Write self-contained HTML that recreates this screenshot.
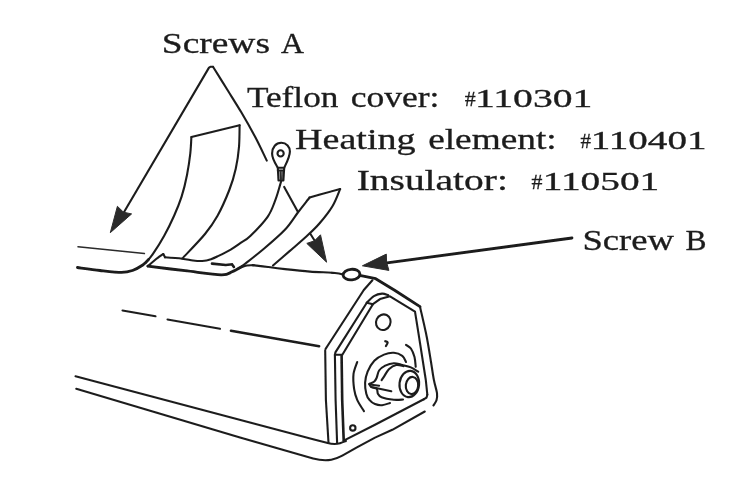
<!DOCTYPE html>
<html>
<head>
<meta charset="utf-8">
<title>Diagram</title>
<style>
html,body{margin:0;padding:0;background:#ffffff;}
body{width:739px;height:492px;overflow:hidden;font-family:"Liberation Serif",serif;}
svg{display:block;position:absolute;left:0;top:0;}
text{font-family:"Liberation Serif",serif;font-size:28.5px;fill:#1c1c1c;stroke:#1c1c1c;stroke-width:0.3;}
.l{fill:none;stroke:#1e1e1e;stroke-width:2.1;stroke-linecap:round;stroke-linejoin:round;}
.t{fill:none;stroke:#1a1a1a;stroke-width:2.8;stroke-linecap:round;stroke-linejoin:round;}
.t2{stroke:#1a1a1a;stroke-width:2.1;stroke-linecap:round;stroke-linejoin:round;}
.t3{fill:none;stroke:#1a1a1a;stroke-width:2.6;stroke-linecap:round;}
.n{fill:none;stroke:#2a2a2a;stroke-width:1.5;stroke-linecap:round;stroke-linejoin:round;}
.a{fill:#2b2b2b;stroke:#2b2b2b;stroke-width:1;stroke-linejoin:round;}
</style>
</head>
<body>
<svg width="739" height="492" viewBox="0 0 739 492">
<rect x="0" y="0" width="739" height="492" fill="#ffffff"/>
<defs><filter id="bl" x="-5%" y="-5%" width="110%" height="110%"><feGaussianBlur stdDeviation="0.45"/></filter></defs>
<g filter="url(#bl)">
<g id="labels">
<text x="161.8" y="52.9" style="font-size:28.5px" textLength="108.2" lengthAdjust="spacingAndGlyphs">Screws</text>
<text x="281.0" y="52.9" style="font-size:28.5px" textLength="22.9" lengthAdjust="spacingAndGlyphs">A</text>
<text x="246.9" y="107.0" style="font-size:28.5px" textLength="91.5" lengthAdjust="spacingAndGlyphs">Teflon</text>
<text x="350.7" y="107.0" style="font-size:28.5px" textLength="88.8" lengthAdjust="spacingAndGlyphs">cover:</text>
<text x="464.7" y="105.8" style="font-size:22px" textLength="10.9" lengthAdjust="spacingAndGlyphs">#</text>
<text x="474.9" y="106.9" style="font-size:25.5px" textLength="117.5" lengthAdjust="spacingAndGlyphs">110301</text>
<text x="295.1" y="148.7" style="font-size:28.5px" textLength="120.5" lengthAdjust="spacingAndGlyphs">Heating</text>
<text x="428.2" y="148.7" style="font-size:28.5px" textLength="128.5" lengthAdjust="spacingAndGlyphs">element:</text>
<text x="580.6" y="147.7" style="font-size:22px" textLength="10.5" lengthAdjust="spacingAndGlyphs">#</text>
<text x="590.7" y="148.8" style="font-size:25.5px" textLength="115.8" lengthAdjust="spacingAndGlyphs">110401</text>
<text x="356.7" y="190.0" style="font-size:28.5px" textLength="151.2" lengthAdjust="spacingAndGlyphs">Insulator:</text>
<text x="531.4" y="189.0" style="font-size:22px" textLength="10.9" lengthAdjust="spacingAndGlyphs">#</text>
<text x="542.7" y="190.1" style="font-size:25.5px" textLength="116.6" lengthAdjust="spacingAndGlyphs">110501</text>
<text x="582.4" y="250.3" style="font-size:28.5px" textLength="91.5" lengthAdjust="spacingAndGlyphs">Screw</text>
<text x="685.6" y="250.3" style="font-size:28.5px" textLength="21.0" lengthAdjust="spacingAndGlyphs">B</text>
</g>
<g id="drawing">
<path class="l" d="M122.0,215.5 L209.0,67.6 L210.3,66.8 L213.0,66.8"/>
<path class="l" d="M213.0,66.8 C215.4,70.7 222.8,82.4 227.5,90.0 C232.2,97.6 236.6,104.4 241.3,112.3 C246.0,120.2 251.2,129.4 255.5,137.5 C259.8,145.6 264.9,156.8 266.8,160.6"/>
<path class="l" d="M284.2,186.9 L297.7,211.4"/>
<path class="l" d="M310.3,233.7 L315.5,242.0"/>
<path class="a" d="M110.3,232.7 L117.4,206.3 L123.5,212.2 L131.6,213.9 L110.3,232.7"/>
<path class="a" d="M326.6,262.2 L306.8,243.4 L314.5,240.8 L320.5,234.8 L326.6,262.2"/>
<path class="t" d="M572.0,238.0 L387.0,262.8"/>
<path class="a" d="M362.4,265.8 L386.3,254.1 L386.6,262.3 L388.9,270.4 L362.4,265.8"/>
<path class="l" d="M191.4,137.0 L239.6,125.2"/>
<path class="l" d="M191.4,137.0 C191.2,139.7 191.0,147.0 190.3,153.3 C189.6,159.6 188.4,167.8 187.0,175.0 C185.6,182.2 183.8,189.8 181.6,196.6 C179.4,203.4 176.9,209.5 174.0,216.0 C171.1,222.5 167.7,229.4 164.2,235.8 C160.7,242.2 155.9,249.7 152.8,254.2 C149.7,258.7 146.7,261.5 145.5,263.0"/>
<path class="l" d="M239.6,125.2 C239.5,128.8 239.6,139.6 239.0,146.8 C238.4,154.0 237.4,161.2 235.8,168.4 C234.2,175.6 232.4,182.1 229.3,190.0 C226.2,197.9 221.5,208.7 217.4,216.0 C213.3,223.3 210.8,226.9 205.0,234.0 C199.2,241.1 186.1,254.4 182.3,258.5"/>
<path class="t" d="M77.5,267.5 C81.2,268.0 92.7,269.7 100.0,270.5 C107.3,271.3 116.2,272.4 121.6,272.4 C127.0,272.4 129.0,271.7 132.5,270.5 C136.0,269.3 140.1,266.8 142.8,265.0 C145.5,263.2 147.6,260.4 148.5,259.5"/>
<path class="l" d="M147.8,266.3 C149.0,265.2 152.4,262.1 155.0,260.0 C157.6,257.9 161.9,255.0 163.3,254.0"/>
<path class="l" d="M163.3,254.0 L165.0,257.3"/>
<path class="l" d="M165.0,257.3 C167.9,257.5 177.6,258.2 182.3,258.7 C187.0,259.2 189.7,260.1 193.0,260.5 C196.3,260.9 199.2,261.2 202.2,261.0 C205.2,260.8 208.3,260.1 211.0,259.2 C213.7,258.3 215.2,257.5 218.5,255.9 C221.8,254.3 226.9,251.8 230.7,249.6 C234.4,247.4 237.7,245.0 241.0,242.7 C244.3,240.4 245.9,240.3 250.3,236.0 C254.7,231.7 263.4,222.9 267.6,216.8 C271.8,210.8 273.2,205.6 275.5,199.7 C277.8,193.8 280.2,184.3 281.2,181.2"/>
<path class="l" d="M309.6,197.5 L320.0,194.4 L340.1,189.1"/>
<path class="l" d="M309.6,197.5 C307.7,200.0 302.0,207.1 297.9,212.5 C293.8,217.9 290.7,223.7 284.9,229.8 C279.1,235.9 270.5,243.2 263.3,249.3 C256.1,255.4 245.2,263.7 241.6,266.6"/>
<path class="l" d="M340.1,189.1 C338.9,191.9 336.0,200.3 332.6,206.0 C329.2,211.7 323.9,218.2 319.6,223.3 C315.3,228.4 311.7,231.6 306.6,236.3 C301.6,241.0 294.9,246.5 289.3,251.4 C283.7,256.3 275.7,263.1 273.0,265.5"/>
<path class="t2" fill="#ffffff" d="M277.8,167.7 C275,163 272,158.5 272.1,153.5 C272.2,147 276,142.8 281.3,142.8 C286.5,142.8 290,147 289.9,151.5 C289.8,157 286.5,163 284.2,167.7"/>
<circle class="t2" fill="none" cx="280.6" cy="153.4" r="3.1"/>
<path class="l" fill="#ffffff" d="M277.8,167.7 L278.5,180.5 L283.4,180.5 L284.2,167.7 Z"/>
<path class="l" d="M277.9,170.5 L284,170.5"/>
<path class="n" d="M280.2,171.5 L280.5,179.5 M282,171.5 L282,179.5"/>
<path class="n" d="M78.0,246.8 L144.4,253.6"/>
<path class="t" d="M147.8,266.2 C154.0,266.9 172.8,269.3 185.0,270.7 C197.2,272.1 213.4,274.6 221.2,274.8 C229.0,275.0 228.6,273.2 232.0,271.8 C235.4,270.4 240.0,267.5 241.6,266.6"/>
<path class="l" d="M238.5,268.3 C239.9,267.8 244.4,266.0 247.0,265.5 C249.6,265.0 252.8,265.3 254.0,265.3"/>
<path class="l" d="M252.5,265.1 C255.1,265.4 262.6,266.3 268.0,267.0 C273.4,267.7 278.0,268.3 285.0,269.1 C292.0,269.9 301.7,271.0 310.0,271.6 C318.3,272.2 329.5,272.5 335.0,273.0 C340.5,273.5 341.8,274.3 343.1,274.6"/>
<path class="t3" d="M212.0,263.6 L225.8,265.0 L232.0,264.3 L233.9,266.9"/>
<ellipse class="t" cx="351.5" cy="274.6" rx="8.4" ry="5.3" transform="rotate(-5 351.5 274.6)"/>
<path class="t" d="M360.9,275.7 L375.7,278.7 L395.0,290.5 L420.0,306.7"/>
<path class="l" d="M420.0,306.7 C421.1,311.7 424.9,327.5 426.7,336.7 C428.5,345.9 429.8,354.8 431.0,362.0 C432.2,369.2 432.9,374.8 433.9,380.0 C434.9,385.2 436.6,389.8 437.0,393.2 C437.4,396.6 437.1,398.3 436.5,400.3 C435.9,402.3 433.9,404.5 433.4,405.4"/>
<path class="l" d="M372.4,280.3 L363.8,290.0 L327.3,346.3 L325.6,348.8"/>
<path class="l" d="M325.2,350.4 L325.9,400.0 L328.5,442.7"/>
<path class="l" d="M366.8,302.7 L335.4,352.4 L334.9,355.0"/>
<path class="l" d="M334.9,355.0 L335.6,400.0 L337.1,442.7"/>
<path class="l" d="M372.9,304.2 L342.5,354.5"/>
<path class="t3" d="M341.6,355.5 L342.2,400.0 L343.7,440.6"/>
<path class="l" d="M334.9,354.8 L342.0,354.8"/>
<path class="l" d="M366.8,302.7 L372.9,304.2"/>
<path class="l" d="M366.8,302.7 C368.0,301.6 371.3,297.6 373.9,296.1 C376.4,294.6 379.7,293.8 382.1,293.6 C384.5,293.4 387.2,294.9 388.2,295.1"/>
<path class="l" d="M372.9,304.2 L380.0,299.1 L390.0,296.3 L415.0,311.7 L419.0,336.7 L425.8,380.0 L427.3,394.5"/>
<path class="l" d="M427.3,394.5 C427.2,395.0 427.1,396.7 426.5,397.5 C425.9,398.3 424.2,399.0 423.8,399.3"/>
<path class="l" d="M423.8,399.3 L375.0,424.8 L343.7,440.6"/>
<ellipse class="l" cx="383.3" cy="322.2" rx="7.2" ry="7.9" transform="rotate(25 383.3 322.2)"/>
<path class="l" d="M122.5,310.5 L155.5,316.2"/>
<path class="l" d="M167.5,319.5 L220.0,328.8"/>
<path class="t3" d="M231.0,330.8 L319.1,346.3"/>
<path class="l" d="M75.5,376.25 L313.1,439.2 L327.7,442.9 C331,443.9 336,444.3 340,443.2 C342.5,442.5 344.5,441.6 346,441"/>
<path class="l" d="M76.25,388.75 L240,437.4 L313.1,458.4 C320,460.3 326,460.6 331.3,459.7 C336,458.8 340,457 342.3,455.7 L356.9,447.4 L375,437.6 L392.3,429.8 L424.8,411.5"/>
<circle class="l" cx="352.8" cy="427.9" r="2.7"/>
<path class="l" d="M406.0,362.0 C405.4,361.0 404.3,357.4 402.3,355.9 C400.3,354.4 396.9,353.0 393.8,352.8 C390.8,352.6 387.2,353.3 384.0,354.6 C380.8,355.9 377.0,357.9 374.3,360.7 C371.6,363.5 369.1,368.0 367.6,371.7 C366.1,375.4 365.3,379.0 365.1,382.7 C364.9,386.4 365.6,390.8 366.3,393.7 C367.0,396.6 367.9,398.1 369.4,399.8 C370.8,401.5 372.9,403.1 375.0,404.0 C377.1,404.9 379.5,405.4 382.0,405.2 C384.5,405.0 388.7,403.4 390.0,403.0"/>
<path class="l" d="M357.2,362.0 C356.6,364.0 354.0,369.6 353.5,374.1 C353.0,378.6 353.5,384.5 354.1,388.8 C354.7,393.1 355.6,396.1 357.2,399.8 C358.8,403.5 362.9,409.3 364.0,411.2"/>
<path class="l" d="M406.0,344.9 C406.8,345.5 409.5,346.5 410.9,348.5 C412.3,350.5 413.7,354.1 414.5,357.1 C415.3,360.2 415.5,365.2 415.7,366.8"/>
<path class="l" d="M418.2,371.7 C417.0,371.0 413.5,368.5 410.9,367.4 C408.2,366.3 405.1,365.7 402.3,365.0 C399.5,364.3 396.7,363.1 393.8,363.2 C390.9,363.3 387.6,364.4 385.2,365.6 C382.8,366.8 380.5,368.5 379.1,370.5 C377.7,372.5 377.5,376.0 376.7,377.8 C375.9,379.6 375.5,380.5 374.3,381.5 C373.1,382.5 370.2,383.5 369.4,383.9"/>
<path class="l" d="M369.4,383.9 C369.7,384.4 370.0,386.2 371.2,387.0 C372.4,387.8 375.6,387.7 376.7,388.8 C377.8,389.9 377.1,392.3 377.9,393.7 C378.7,395.1 379.0,396.3 381.6,397.3 C384.2,398.3 390.2,399.4 393.8,399.8 C397.4,400.2 401.5,399.6 403.0,399.5"/>
<path class="l" d="M403.5,366.2 C402.3,366.0 398.6,364.5 396.2,365.0 C393.8,365.5 390.9,367.4 388.9,369.3 C386.9,371.2 385.2,374.8 384.0,376.6 C382.8,378.4 382.0,379.6 381.6,380.2"/>
<path class="l" d="M369.4,384.5 L379.1,385.7"/>
<path class="l" d="M371.2,387.0 L391.3,391.2"/>
<ellipse class="l" cx="409.3" cy="384" rx="9.8" ry="13.2" transform="rotate(6 409.3 384)" fill="#ffffff"/>
<ellipse class="t2" cx="412" cy="385.5" rx="6.2" ry="8.6" transform="rotate(6 412 385.5)" fill="none"/>
<path class="l" d="M385.2,341.2 C385.6,341.4 387.6,341.6 387.7,342.4 C387.8,343.2 386.2,345.5 385.9,346.1"/>
</g>
</g>
</svg>
</body>
</html>
